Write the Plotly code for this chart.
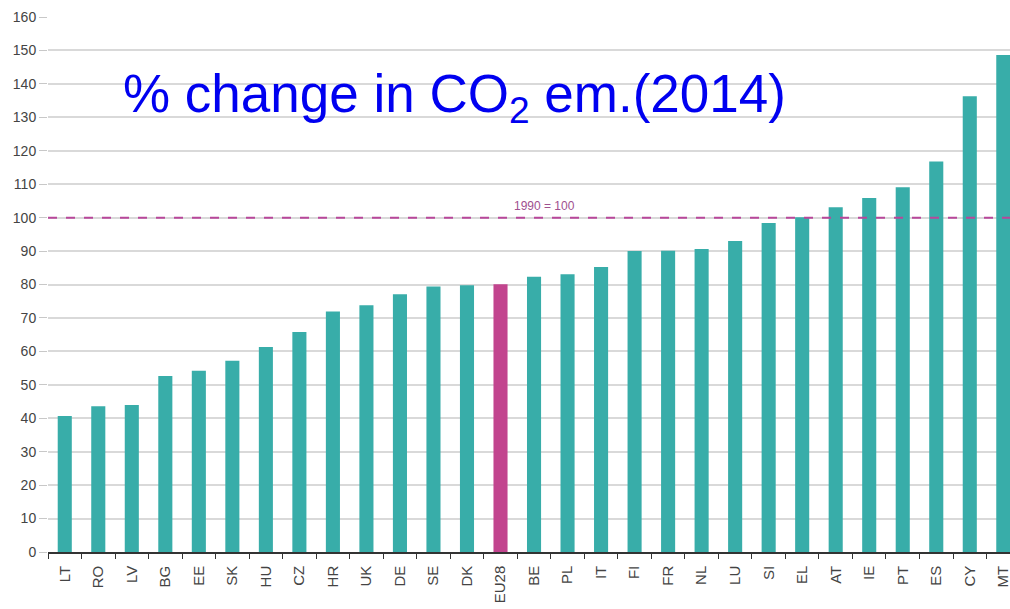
import plotly.graph_objects as go

# Données : variation des émissions de CO2 (1990 = 100)
countries = ["LT", "RO", "LV", "BG", "EE", "SK", "HU", "CZ", "HR", "UK", "DE", "SE", "DK", "EU28",
             "BE", "PL", "IT", "FI", "FR", "NL", "LU", "SI", "EL", "AT", "IE", "PT", "ES", "CY", "MT"]
values = [40.7, 43.6, 44.0, 52.6, 54.2, 57.2, 61.3, 65.8, 71.9, 73.8, 77.1, 79.4, 79.8, 80.1,
          82.3, 83.1, 85.2, 90.0, 90.1, 90.6, 93.0, 98.4, 100.1, 103.1, 105.9, 109.1, 116.8, 136.3, 148.6]
y_ticks = list(range(0, 161, 10))
baseline = 100

teal = "#38ADA9"
magenta = "#C2448E"
colors = [magenta if c == "EU28" else teal for c in countries]

fig = go.Figure()
fig.add_trace(go.Bar(x=countries, y=values, marker_color=colors, marker_line_width=0))

# Ligne de référence 1990 = 100
fig.add_shape(type="line", xref="paper", x0=0, x1=1, yref="y", y0=baseline, y1=baseline,
              line=dict(color="#B8479A", width=2, dash="dash"), layer="above")
fig.add_annotation(x=14.3, y=baseline, text="1990 = 100", showarrow=False, yshift=12,
                   font=dict(family="Liberation Sans Narrow, Arial Narrow, Liberation Sans", size=12, color="#A0508F"))

# Titre
fig.add_annotation(xref="paper", yref="paper", x=0.076, y=0.85, xanchor="left", yanchor="middle",
                   text="% change in CO<sub>2</sub> em.(2014)", showarrow=False,
                   font=dict(family="Liberation Sans, Arial", size=53, color="#0000F0"))

fig.update_layout(
    width=1010, height=609,
    margin=dict(l=48, r=0, t=17, b=57),
    plot_bgcolor="white", paper_bgcolor="white",
    bargap=0.58, showlegend=False,
)
fig.update_xaxes(range=[-0.5, 28.2], tickangle=-90, tickson="boundaries", ticks="outside", ticklen=5,
                 tickcolor="#333333", showline=True, linecolor="#333333", linewidth=1.5, automargin=False,
                 ticklabelstandoff=6,
                 tickfont=dict(family="Liberation Sans, Arial", size=15, color="#444444"))
fig.update_yaxes(range=[0, 160], tickvals=y_ticks, showgrid=True, gridcolor="#D9D9D9", gridwidth=1.5,
                 ticks="outside", ticklen=8, tickcolor="#C8C8C8", zeroline=False, showline=False,
                 automargin=False,
                 tickfont=dict(family="Liberation Sans, Arial", size=14, color="#444444"))

# pas de marge ni de barre de défilement autour de la figure
fig.write_html("out.html", config={"displayModeBar": False},
               post_script="document.body.style.margin='0';document.body.style.overflow='hidden';")
